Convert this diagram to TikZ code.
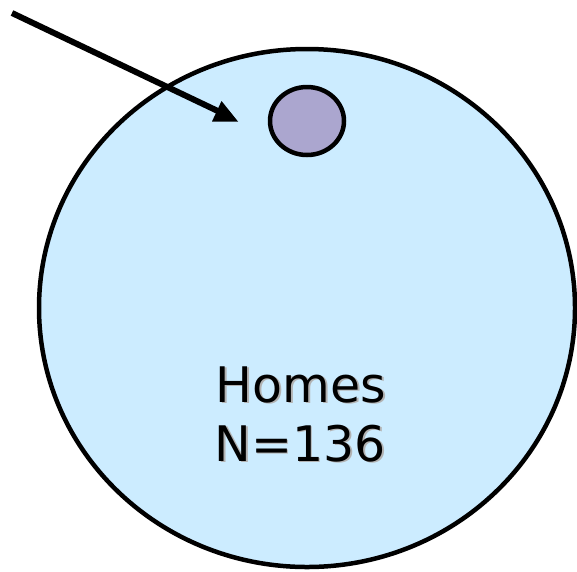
\documentclass[tikz,border=0pt]{standalone}
\usepackage{fontspec}
\setmainfont{DejaVu Sans}
\definecolor{bigfill}{HTML}{CCECFF}
\definecolor{smallfill}{HTML}{ABA6CF}
\newcommand{\shadowed}[1]{\makebox[0pt][l]{\hspace{1.8pt}\raisebox{-1.8pt}{\color{black!30}#1}}#1}
\begin{document}
\begin{tikzpicture}[x=1pt,y=-1pt,
  outline/.style={draw=black,line width=4.5pt},
  label/.style={font=\fontsize{49}{58}\selectfont,inner sep=0pt,anchor=base}]
\useasboundingbox (0,0) rectangle (577,571);
\draw[outline,fill=bigfill] (307,308) ellipse [x radius=268,y radius=259];
\draw[outline,fill=smallfill] (307,121) ellipse [x radius=37,y radius=34];
\node[label] (homes) at (301,402) {\shadowed{Homes}};
\node[label] (count) at (300,461) {\shadowed{N=136}};
\coordinate (start) at (12,13);
\coordinate (base) at (222,113);
\draw[line width=6pt] (start) -- (base);
\fill (212,121.5) -- (238,121.5) -- (221.5,101) -- cycle;
\end{tikzpicture}
\end{document}
